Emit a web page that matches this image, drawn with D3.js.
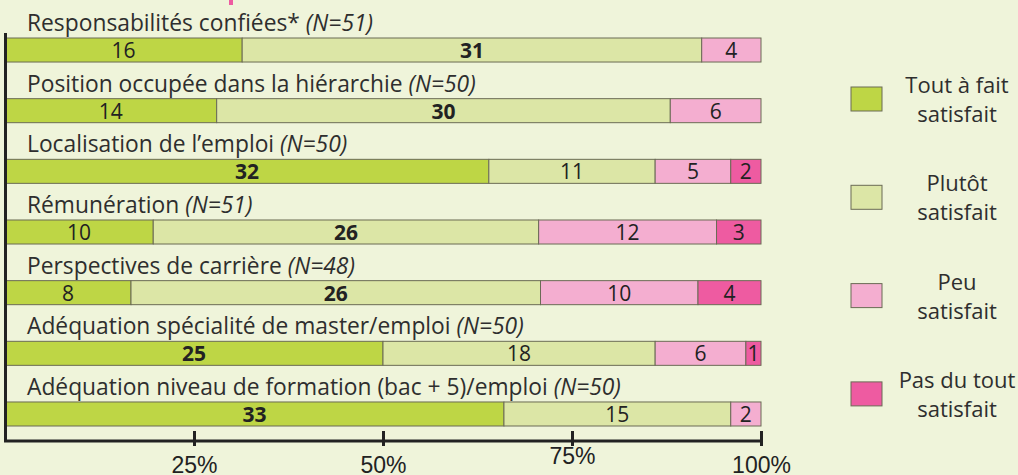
<!DOCTYPE html>
<html><head><meta charset="utf-8">
<script src="https://cdn.jsdelivr.net/npm/d3@7"></script>
<style>
body{margin:0;background:#eff4da;}
svg{display:block;}
</style></head><body>
<svg id="c" width="1018" height="475"></svg>
<script>
const categories = [
  "Responsabilités confiées*",
  "Position occupée dans la hiérarchie",
  "Localisation de l’emploi",
  "Rémunération",
  "Perspectives de carrière",
  "Adéquation spécialité de master/emploi",
  "Adéquation niveau de formation (bac + 5)/emploi"
];
const nLabels = ["(N=51)","(N=50)","(N=50)","(N=51)","(N=48)","(N=50)","(N=50)"];
const seriesNames = ["Tout à fait satisfait","Plutôt satisfait","Peu satisfait","Pas du tout satisfait"];
const legendLines = [["Tout à fait","satisfait"],["Plutôt","satisfait"],["Peu","satisfait"],["Pas du tout","satisfait"]];
const toutAFait = [16,14,32,10,8,25,33];
const plutot    = [31,30,11,26,26,18,15];
const peu       = [4,6,5,12,10,6,2];
const pasDuTout = [0,0,2,3,4,1,0];
const tickValues = [0.25,0.5,0.75,1];
const colors = ["#bed645","#dce6a6","#f4aed0","#ee5ba1"];

const svg = d3.select("#c");
const x = d3.scaleLinear().domain([0,1]).range([5,761]);
const y = d3.scaleBand().domain(categories).range([38,426]).paddingInner(0.604).paddingOuter(0);

const rows = categories.map((c,i)=>{
  const vals=[toutAFait[i],plutot[i],peu[i],pasDuTout[i]];
  const tot=d3.sum(vals);
  const mx=d3.max(vals);
  let cum=0;
  return vals.map((v,k)=>{const s={cat:c,k,v,x0:cum/tot,x1:(cum+v)/tot,bold:v===mx};cum+=v;return s;}).filter(s=>s.v>0);
});

const font = "'Open Sans', 'Liberation Sans', Arial, sans-serif";
const tickFont = "'Liberation Sans', Arial, sans-serif";

// labels
categories.forEach((c,i)=>{
  const t = svg.append("text").attr("x",27).attr("y",y(c)-7)
    .attr("font-family",font).attr("font-size",22.8).attr("fill","#2e2e2e");
  t.append("tspan").text(c+" ");
  t.append("tspan").attr("font-style","italic").text(nLabels[i]);
});

// bars
const segs = rows.flat();
svg.selectAll("rect.seg").data(segs).enter().append("rect")
  .attr("class","seg")
  .attr("x",d=>x(d.x0)).attr("width",d=>x(d.x1)-x(d.x0))
  .attr("y",d=>y(d.cat)).attr("height",y.bandwidth())
  .attr("fill",d=>colors[d.k]).attr("stroke","#6b6b55").attr("stroke-width",1);

svg.selectAll("text.val").data(segs).enter().append("text")
  .attr("class","val")
  .attr("x",d=>(x(d.x0)+x(d.x1))/2).attr("y",d=>y(d.cat)+y.bandwidth()/2+8)
  .attr("text-anchor","middle").attr("font-family",font).attr("font-size",21)
  .attr("font-weight",d=>d.bold?"bold":"normal").attr("fill","#222")
  .text(d=>d.v);

// axis
const axis = d3.axisBottom(x).tickValues(tickValues).tickFormat(d3.format(".0%")).tickSize(15).tickPadding(0);
const ag = svg.append("g").attr("transform","translate(0,441)").call(axis);
ag.select(".domain").remove();
ag.selectAll(".tick line").attr("y1",-10).attr("y2",5).attr("stroke","#222").attr("stroke-width",3);
ag.selectAll(".tick text").attr("font-family",tickFont).attr("font-size",23).attr("fill","#222")
  .attr("dy",null).attr("y",d=>d===0.75?23:32);
svg.append("line").attr("x1",x(0)-1).attr("x2",x(1)+1).attr("y1",441).attr("y2",441).attr("stroke","#222").attr("stroke-width",3);
svg.append("line").attr("x1",5.5).attr("x2",5.5).attr("y1",33).attr("y2",442).attr("stroke","#222").attr("stroke-width",3);

// top pink fragment
svg.append("rect").attr("x",229).attr("y",0).attr("width",4).attr("height",5).attr("fill","#ee5ba1");

// legend
const lg = svg.append("g");
seriesNames.forEach((s,i)=>{
  const top = 87 + i*98.3;
  lg.append("rect").attr("x",851).attr("y",top).attr("width",31).attr("height",24)
    .attr("fill",colors[i]).attr("stroke","#6b6b55").attr("stroke-width",1);
  legendLines[i].forEach((l,j)=>{
    lg.append("text").attr("x",957).attr("y",top+6+j*29).attr("text-anchor","middle")
      .attr("font-family",font).attr("font-size",22).attr("fill","#2e2e2e").text(l);
  });
});
</script>
</body></html>
